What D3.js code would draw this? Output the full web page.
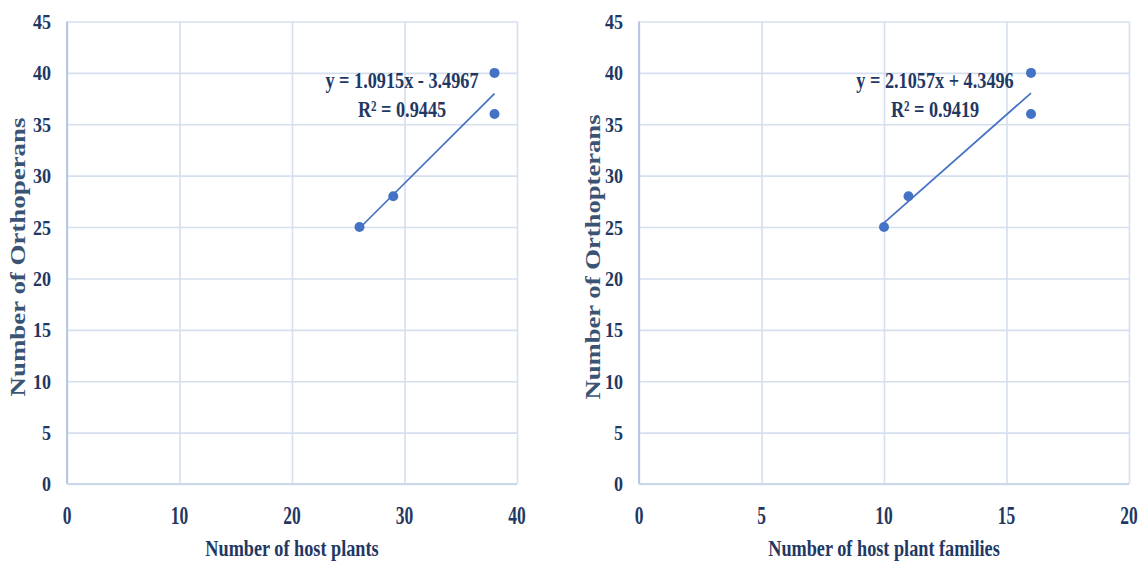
<!DOCTYPE html>
<html>
<head>
<meta charset="utf-8">
<script src="https://cdn.jsdelivr.net/npm/d3@7"></script>
<style>
  html, body { margin: 0; padding: 0; background: #fff; }
  svg { display: block; }
  text { font-family: "Liberation Serif", "Times New Roman", serif; font-weight: bold; }
</style>
</head>
<body>
<svg id="chart" width="1144" height="564"></svg>
<script>
// Orthopteran richness vs. host plant richness (species and families)
const hostPlants        = [26, 29, 38, 38];
const hostFamilies      = [10, 11, 16, 16];
const orthopterans      = [25, 28, 40, 36];

const yTicks            = [0, 5, 10, 15, 20, 25, 30, 35, 40, 45];
const xTicksPlants      = [0, 10, 20, 30, 40];
const xTicksFamilies    = [0, 5, 10, 15, 20];

// Linear trend lines: [slope, intercept, R²]
const fitPlants         = [1.0915, -3.4967, 0.9445];
const fitFamilies       = [2.1057, 4.3496, 0.9419];

const xTitles = ["Number of host plants", "Number of host plant families"];
const yTitles = ["Number of Orthoperans", "Number of Orthopterans"];

const svg = d3.select("#chart");

const TEXT = "#1f3864";
const YTITLE = "#3b5474";
const GRID = "#d5dfee";
const AXIS = "#aac0df";
const MARK = "#4472c4";

function fmtEq(fit) {
  const sign = fit[1] < 0 ? " - " : " + ";
  return "y = " + fit[0].toFixed(4) + "x" + sign + Math.abs(fit[1]).toFixed(4);
}

function panel(opt) {
  const x = d3.scaleLinear().domain(opt.xDomain).range(opt.xRange);
  const y = d3.scaleLinear().domain([0, 45]).range([484, 21.5]);
  const g = svg.append("g");

  // horizontal gridlines
  g.append("g")
    .attr("transform", `translate(${opt.xRange[0]},0)`)
    .call(d3.axisLeft(y).tickValues(yTicks).tickSize(-(opt.xRange[1] - opt.xRange[0])).tickFormat(""))
    .call(s => s.select(".domain").remove())
    .call(s => s.selectAll("line").attr("stroke", GRID).attr("stroke-width", 1.6));

  // vertical gridlines
  g.append("g")
    .attr("transform", `translate(0,${y(0)})`)
    .call(d3.axisBottom(x).tickValues(opt.xTicks).tickSize(-(y(0) - y(45))).tickFormat(""))
    .call(s => s.select(".domain").remove())
    .call(s => s.selectAll("line").attr("stroke", GRID).attr("stroke-width", 1.6));

  // axis lines
  g.append("line")
    .attr("x1", x(opt.xDomain[0])).attr("x2", x(opt.xDomain[0]))
    .attr("y1", y(0)).attr("y2", y(45))
    .attr("stroke", AXIS).attr("stroke-width", 1.6);
  g.append("line")
    .attr("x1", x(opt.xDomain[0])).attr("x2", x(opt.xDomain[1]))
    .attr("y1", y(0)).attr("y2", y(0))
    .attr("stroke", "#cbd8ea").attr("stroke-width", 1.8);

  // y tick labels
  g.selectAll(".ylab").data(yTicks).enter().append("text")
    .attr("transform", d => `translate(${x(opt.xDomain[0]) - 16},${y(d)}) scale(0.82,1)`)
    .attr("text-anchor", "end").attr("dy", "0.34em")
    .attr("font-size", 22).attr("fill", TEXT)
    .text(d => d);

  // x tick labels
  g.selectAll(".xlab").data(opt.xTicks).enter().append("text")
    .attr("transform", d => `translate(${x(d)},524) scale(0.7,1)`)
    .attr("text-anchor", "middle")
    .attr("font-size", 25).attr("fill", TEXT)
    .text(d => d);

  // axis titles
  const cx = (opt.xRange[0] + opt.xRange[1]) / 2;
  g.append("text")
    .attr("transform", `translate(${cx},556) scale(0.76,1)`)
    .attr("text-anchor", "middle").attr("font-size", 24).attr("fill", TEXT)
    .text(opt.xTitle);
  g.append("text")
    .attr("transform", `translate(${opt.yTitleX},257) rotate(-90) scale(1,0.78)`)
    .attr("text-anchor", "middle").attr("font-size", 26).attr("fill", YTITLE)
    .attr("textLength", opt.yTitleLen).attr("lengthAdjust", "spacingAndGlyphs")
    .text(opt.yTitle);

  // trend line across the observed range
  const [x0, x1] = d3.extent(opt.xs);
  const f = v => opt.fit[0] * v + opt.fit[1];
  g.append("line")
    .attr("x1", x(x0)).attr("y1", y(f(x0)))
    .attr("x2", x(x1)).attr("y2", y(f(x1)))
    .attr("stroke", MARK).attr("stroke-width", 1.7);

  // points
  g.selectAll("circle").data(opt.xs.map((v, i) => [v, orthopterans[i]])).enter()
    .append("circle")
    .attr("cx", d => x(d[0])).attr("cy", d => y(d[1])).attr("r", 5)
    .attr("fill", MARK);

  // equation label
  const eq = g.append("g").attr("fill", TEXT).attr("font-size", 24).attr("text-anchor", "middle");
  eq.append("text").attr("transform", `translate(${opt.eqX},88) scale(0.76,1)`).text(fmtEq(opt.fit));
  eq.append("text").attr("transform", `translate(${opt.eqX},117) scale(0.76,1)`)
    .text("R² = " + opt.fit[2].toFixed(4));
}

panel({
  xs: hostPlants, xDomain: [0, 40], xRange: [67, 517], xTicks: xTicksPlants,
  fit: fitPlants, xTitle: xTitles[0], yTitle: yTitles[0],
  yTitleX: 25, yTitleLen: 279, eqX: 402
});
panel({
  xs: hostFamilies, xDomain: [0, 20], xRange: [639, 1129], xTicks: xTicksFamilies,
  fit: fitFamilies, xTitle: xTitles[1], yTitle: yTitles[1],
  yTitleX: 600, yTitleLen: 285, eqX: 935
});
</script>
</body>
</html>
